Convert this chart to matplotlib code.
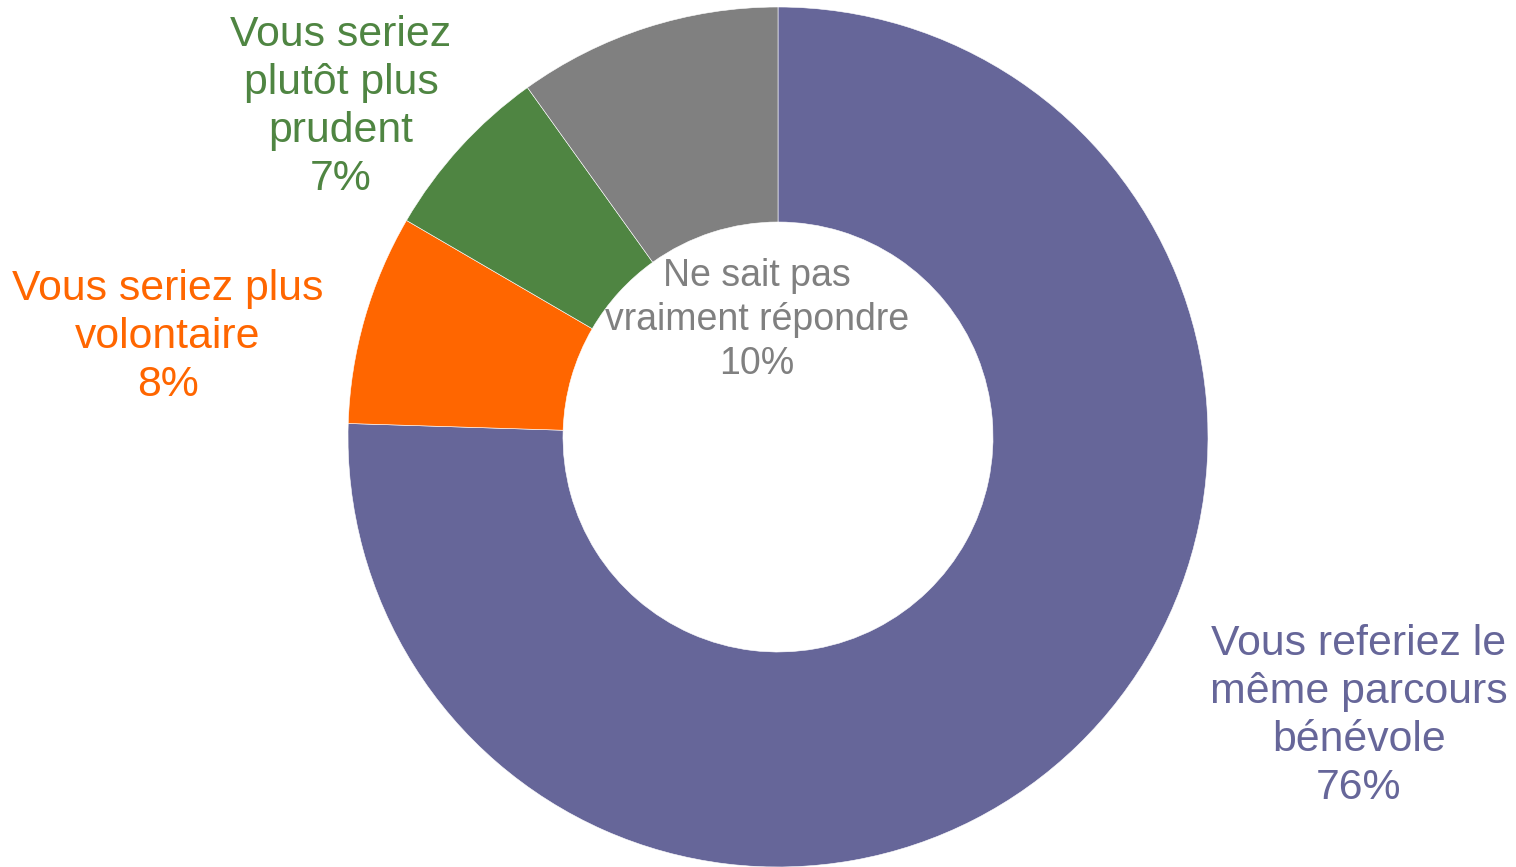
import matplotlib.pyplot as plt

plt.rcParams['font.family'] = ['Liberation Sans', 'DejaVu Sans']

# donnees
categories = ["Vous referiez le\nmême parcours\nbénévole",
              "Vous seriez plus\nvolontaire",
              "Vous seriez\nplutôt plus\nprudent",
              "Ne sait pas\nvraiment répondre"]
valeurs = [75.5, 7.9, 6.7, 9.9]
pourcents = ["76%", "8%", "7%", "10%"]
couleurs = ["#666699", "#FF6600", "#4F8542", "#808080"]

W, H = 1516, 867
fig = plt.figure(figsize=(W / 100, H / 100), dpi=100)
ax = fig.add_axes([0, 0, 1, 1])

R = 430
cx, cy = 778, H - 437
ax.pie(valeurs, colors=couleurs, startangle=90, counterclock=False,
       radius=R, center=(cx, cy),
       wedgeprops=dict(width=R * 0.5, edgecolor="white", linewidth=0.4))

ax.set_xlim(0, W)
ax.set_ylim(0, H)
ax.set_aspect("equal")
ax.axis("off")

# etiquettes (x, y en pixels, taille, interligne)
pos = [(1359, H - 716, 30.8, 1.26), (168, H - 337, 30.8, 1.26),
       (341, H - 107, 30.8, 1.26), (757, H - 320, 27, 1.28)]
for cat, p, c, (x, y, fs, ls) in zip(categories, pourcents, couleurs, pos):
    ax.text(x, y, cat + "\n" + p, color=c, fontsize=fs, ha="center", va="center",
            linespacing=ls)

fig.savefig("out.png", dpi=100)
